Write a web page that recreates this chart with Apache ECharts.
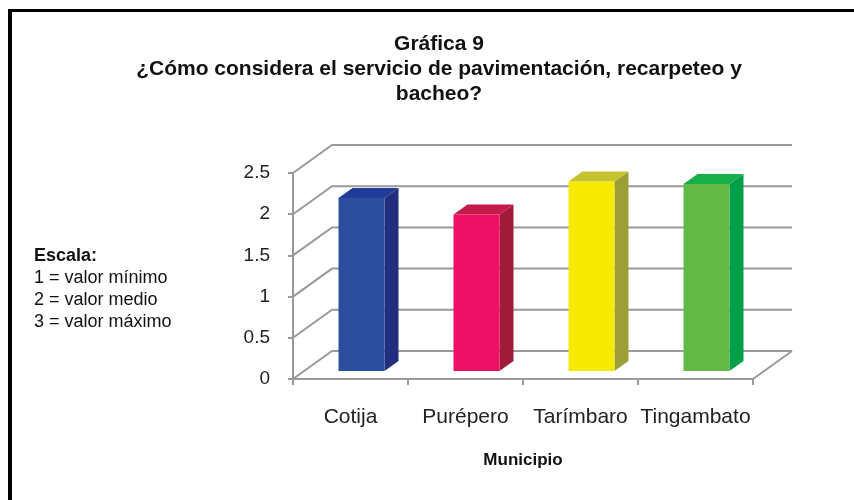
<!DOCTYPE html>
<html>
<head>
<meta charset="utf-8">
<script src="https://cdn.jsdelivr.net/npm/echarts@6/dist/echarts.min.js"></script>
<style>html,body{margin:0;padding:0;background:#fff}#c{width:854px;height:500px}</style>
</head>
<body>
<div id="c"></div>
<script>
const categories = ['Cotija', 'Purépero', 'Tarímbaro', 'Tingambato'];
const values = [2.1, 1.9, 2.3, 2.27];
const yTicks = [0, 0.5, 1, 1.5, 2, 2.5];
const titleLines = ['Gráfica 9', '¿Cómo considera el servicio de pavimentación, recarpeteo y', 'bacheo?'];
const scaleLines = ['Escala:', '1 = valor mínimo', '2 = valor medio', '3 = valor máximo'];

const frontColors = ['#2C4E9F', '#EC1164', '#F5EA00', '#62B946'];
const sideColors  = ['#212E7D', '#A01A3A', '#9C9F36', '#00A04A'];
const topColors   = ['#213C97', '#C31A4A', '#C4C32F', '#17AF4A'];

const FONT = '"Liberation Sans", Arial, sans-serif';
const DX = 39, DY = -28;          // wall depth offset
const F = [11, -8], B = [25, -18]; // bar front / back plane offsets
const GRID = '#9a9a9a';

const chart = echarts.init(document.getElementById('c'), null, {renderer: 'canvas'});

const graphics = [
  {type: 'line', shape: {x1: 10, y1: 9, x2: 10, y2: 500}, style: {stroke: '#000', lineWidth: 4}, silent: true},
  {type: 'line', shape: {x1: 8, y1: 10.5, x2: 854, y2: 10.5}, style: {stroke: '#000', lineWidth: 3}, silent: true}
];
const titleY = [44, 69, 94];
titleLines.forEach((t, i) => graphics.push({
  type: 'text', x: 439, y: titleY[i],
  style: {text: t, font: 'bold 21px ' + FONT, fill: '#111', textAlign: 'center', textVerticalAlign: 'middle'}
}));
const scaleY = [256, 278, 300, 322];
scaleLines.forEach((t, i) => graphics.push({
  type: 'text', x: 34, y: scaleY[i],
  style: {text: t, font: (i === 0 ? 'bold ' : '') + '18px ' + FONT, fill: '#111', textAlign: 'left', textVerticalAlign: 'middle'}
}));

chart.setOption({
  animation: false,
  backgroundColor: '#fff',
  grid: {left: 293, right: 101, top: 173, bottom: 121},
  xAxis: {
    type: 'category', data: categories, boundaryGap: true,
    axisLine: {lineStyle: {color: GRID, width: 2}},
    axisTick: {show: true, length: 6, inside: false, alignWithLabel: false, lineStyle: {color: GRID, width: 2}},
    axisLabel: {fontSize: 21, color: '#222', fontFamily: FONT, margin: 28, interval: 0},
    name: 'Municipio', nameLocation: 'middle', nameGap: 73,
    nameTextStyle: {fontSize: 17, fontWeight: 'bold', color: '#111', fontFamily: FONT}
  },
  yAxis: {
    type: 'value', min: 0, max: 2.5, interval: 0.5,
    axisLine: {show: true, lineStyle: {color: GRID, width: 2}},
    axisTick: {show: true, length: 5, lineStyle: {color: GRID, width: 2}},
    axisLabel: {fontSize: 19, color: '#222', fontFamily: FONT, margin: 23},
    splitLine: {show: false}
  },
  graphic: graphics,
  series: [
    {
      type: 'custom', name: 'walls', silent: true, z: 1,
      data: yTicks.map(v => [0, v]),
      renderItem: function (params, api) {
        const cs = params.coordSys;
        const v = api.value(1);
        const y = api.coord([0, v])[1];
        const x0 = cs.x, x1 = cs.x + cs.width;
        const children = [{
          type: 'polyline',
          shape: {points: [[x0, y], [x0 + DX, y + DY], [x1 + DX, y + DY]]},
          style: {stroke: GRID, lineWidth: 2, fill: null}
        }];
        if (v === 0) {
          children.push({type: 'line', shape: {x1: x1, y1: y, x2: x1 + DX, y2: y + DY},
            style: {stroke: GRID, lineWidth: 2}});
        }
        return {type: 'group', children: children};
      }
    },
    {
      type: 'custom', name: 'bars', z: 3,
      data: values.map((v, i) => [i, v]),
      renderItem: function (params, api) {
        const i = api.value(0);
        const base = api.coord([i, 0]);
        const top = api.coord([i, api.value(1)]);
        const w = api.size([1, 0])[0] * 0.4;
        const xl = base[0] - w / 2 + F[0], xr = base[0] + w / 2 + F[0];
        const yt = top[1] + F[1], yb = base[1] + F[1];
        const ddx = B[0] - F[0], ddy = B[1] - F[1];
        return {type: 'group', children: [
          {type: 'polygon', shape: {points: [[xr, yt], [xr + ddx, yt + ddy], [xr + ddx, yb + ddy], [xr, yb]]},
            style: {fill: sideColors[i]}},
          {type: 'polygon', shape: {points: [[xl, yt], [xl + ddx, yt + ddy], [xr + ddx, yt + ddy], [xr, yt]]},
            style: {fill: topColors[i]}},
          {type: 'rect', shape: {x: xl, y: yt, width: xr - xl, height: yb - yt},
            style: {fill: frontColors[i]}}
        ]};
      }
    }
  ]
});
</script>
</body>
</html>
